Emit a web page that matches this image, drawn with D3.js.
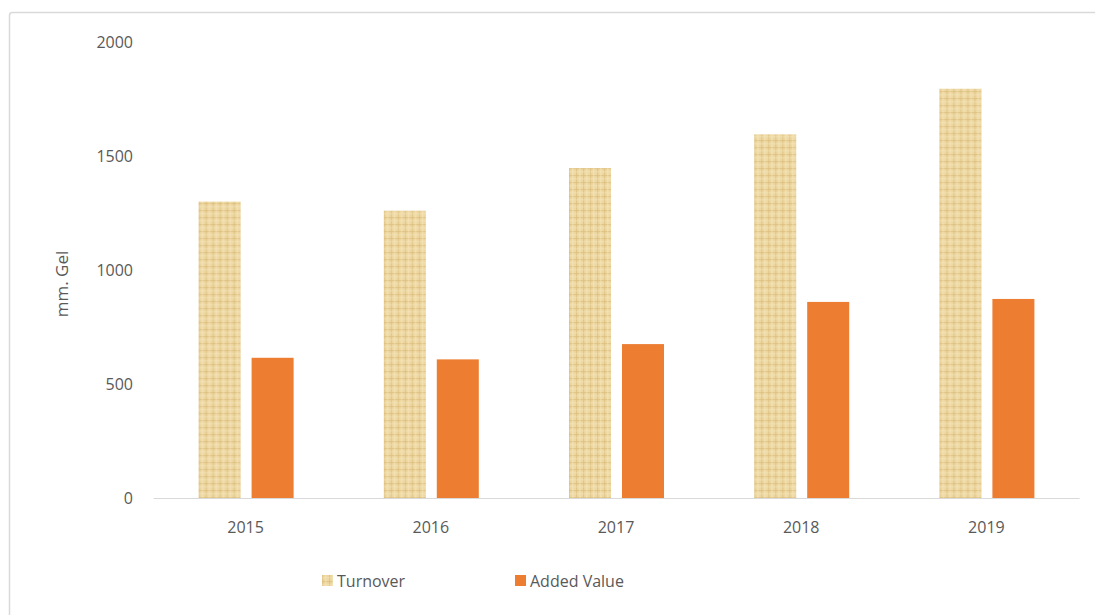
<!DOCTYPE html>
<html>
<head>
<meta charset="utf-8">
<script src="https://cdn.jsdelivr.net/npm/d3@7"></script>
<style>
  html, body { margin: 0; padding: 0; background: #fff; }
  svg { display: block; }
  text { font-family: "Open Sans", "Noto Sans", sans-serif; fill: #595959; }
</style>
</head>
<body>
<svg id="chart" width="1095" height="615"></svg>
<script>
// Turnover and added value by year, million GEL
const years = ["2015", "2016", "2017", "2018", "2019"];
const turnover = [1300, 1260, 1447, 1595, 1795];
const addedValue = [615, 608, 675, 860, 873];
const yTicks = [0, 500, 1000, 1500, 2000];
const seriesNames = ["Turnover", "Added Value"];

const svg = d3.select("#chart");
const W = 1095, H = 615;
const margin = { left: 153, right: 16, top: 42, bottom: 117 };

// outer chart frame
svg.append("rect")
  .attr("x", 9.5).attr("y", 12.5)
  .attr("width", W + 10).attr("height", H + 10)
  .attr("rx", 3)
  .attr("fill", "none").attr("stroke", "#d9d9d9").attr("stroke-width", 1.5);

// burlap-like texture for the turnover bars
const defs = svg.append("defs");
const pat = defs.append("pattern")
  .attr("id", "burlap").attr("patternUnits", "userSpaceOnUse")
  .attr("width", 7).attr("height", 7);
pat.append("rect").attr("width", 7).attr("height", 7).attr("fill", "#eed8a2");
pat.append("rect").attr("x", 0).attr("y", 0).attr("width", 7).attr("height", 1.2).attr("fill", "#dcc081").attr("opacity", 0.8);
pat.append("rect").attr("x", 0).attr("y", 0).attr("width", 1.2).attr("height", 7).attr("fill", "#dcc081").attr("opacity", 0.7);
pat.append("rect").attr("x", 3.5).attr("y", 0).attr("width", 0.8).attr("height", 7).attr("fill", "#f6e7c2").attr("opacity", 0.8);
pat.append("rect").attr("x", 0).attr("y", 3.5).attr("width", 7).attr("height", 0.8).attr("fill", "#f6e7c2").attr("opacity", 0.6);

const x = d3.scaleBand()
  .domain(years)
  .range([margin.left, W - margin.right]);

const groupWidth = 95;
const xInner = d3.scaleBand()
  .domain(seriesNames)
  .range([0, groupWidth])
  .paddingInner(0.2075);

const y = d3.scaleLinear()
  .domain([0, 2000])
  .range([H - margin.bottom, margin.top]);

// y-axis tick labels
svg.append("g")
  .selectAll("text")
  .data(yTicks)
  .join("text")
  .attr("x", 133)
  .attr("y", d => y(d))
  .attr("dy", "0.35em")
  .attr("text-anchor", "end")
  .attr("font-size", 16)
  .text(d => d);

// y-axis title
svg.append("text")
  .attr("transform", `translate(68, ${(y(0) + y(2000)) / 2 + 14}) rotate(-90)`)
  .attr("text-anchor", "middle")
  .attr("font-size", 17)
  .text("mm. Gel");

const fills = ["url(#burlap)", "#ed7d31"];
const rows = years.map((yr, i) => ({ year: yr, values: [turnover[i], addedValue[i]] }));

const groups = svg.append("g")
  .selectAll("g")
  .data(rows)
  .join("g")
  .attr("transform", d => `translate(${x(d.year) + (x.bandwidth() - groupWidth) / 2 + 0.5}, 0)`);

groups.selectAll("rect")
  .data(d => d.values.map((v, k) => ({ name: seriesNames[k], value: v, k })))
  .join("rect")
  .attr("x", d => xInner(d.name))
  .attr("width", xInner.bandwidth())
  .attr("y", d => y(d.value))
  .attr("height", d => y(0) - y(d.value))
  .attr("fill", d => fills[d.k]);

// baseline and year labels
const xAxis = svg.append("g")
  .attr("transform", `translate(0, ${y(0)})`)
  .call(d3.axisBottom(x).tickSize(0).tickPadding(24));
xAxis.select(".domain").attr("stroke", "#d9d9d9").attr("stroke-width", 1.2);
xAxis.selectAll("text")
  .attr("font-size", 16)
  .attr("fill", "#595959")
  .attr("font-family", "\"Open Sans\", \"Noto Sans\", sans-serif");

// legend
const legend = svg.append("g");
const legendX = [322, 515];
seriesNames.forEach((name, k) => {
  legend.append("rect")
    .attr("x", legendX[k]).attr("y", 575)
    .attr("width", 11).attr("height", 11)
    .attr("fill", fills[k]);
  legend.append("text")
    .attr("x", legendX[k] + 15).attr("y", 581)
    .attr("dy", "0.35em")
    .attr("font-size", 16)
    .text(name);
});
</script>
</body>
</html>
